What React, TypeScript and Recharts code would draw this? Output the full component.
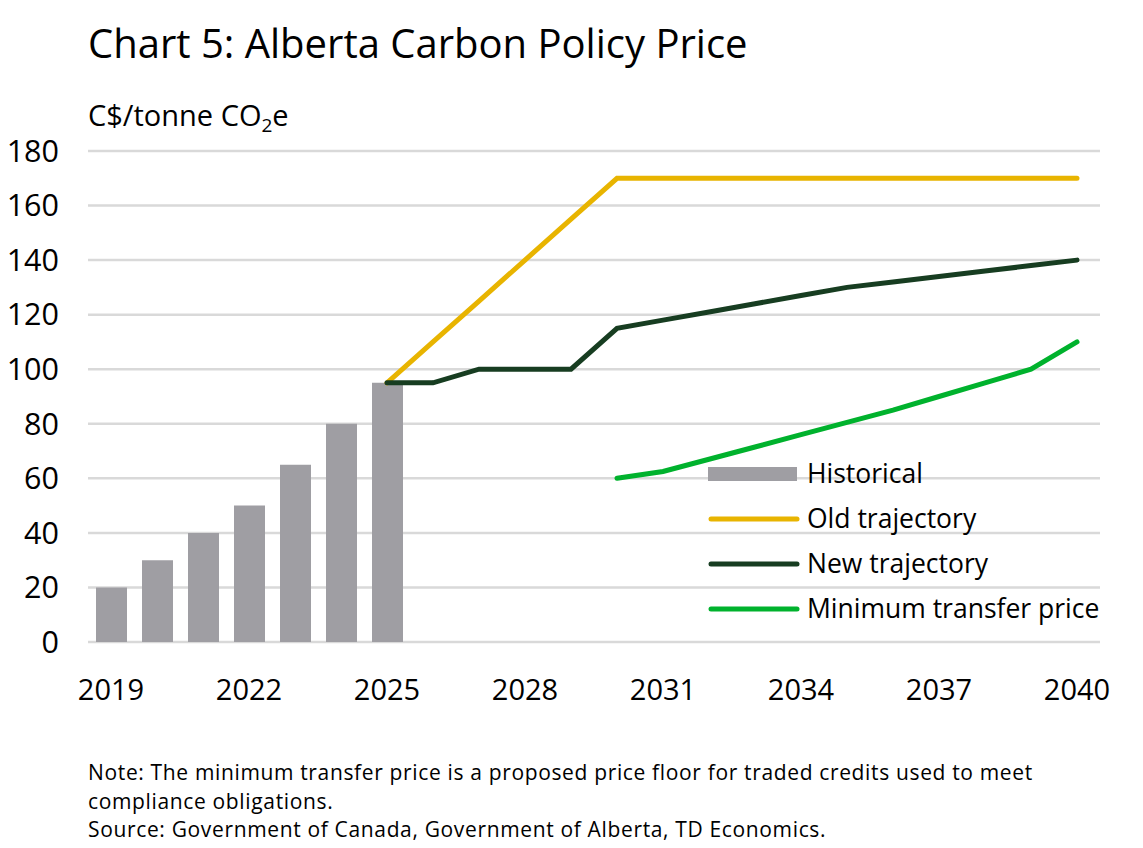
import React from "react";
import {
  ComposedChart,
  Bar,
  Line,
  XAxis,
  YAxis,
  CartesianGrid,
} from "recharts";

// Years on the category axis
const years: number[] = [
  2019, 2020, 2021, 2022, 2023, 2024, 2025, 2026, 2027, 2028, 2029,
  2030, 2031, 2032, 2033, 2034, 2035, 2036, 2037, 2038, 2039, 2040,
];

// C$/tonne CO2e
const historical: (number | null)[] = [
  20, 30, 40, 50, 65, 80, 95, null, null, null, null,
  null, null, null, null, null, null, null, null, null, null, null,
];
const oldTrajectory: (number | null)[] = [
  null, null, null, null, null, null, 95, 110, 125, 140, 155,
  170, 170, 170, 170, 170, 170, 170, 170, 170, 170, 170,
];
const newTrajectory: (number | null)[] = [
  null, null, null, null, null, null, 95, 95, 100, 100, 100,
  115, 118, 121, 124, 127, 130, 132, 134, 136, 138, 140,
];
const minTransferPrice: (number | null)[] = [
  null, null, null, null, null, null, null, null, null, null, null,
  60, 62.5, 67, 71.5, 76, 80.5, 85, 90, 95, 100, 110,
];

const yTicks: number[] = [0, 20, 40, 60, 80, 100, 120, 140, 160, 180];

const seriesNames = {
  historical: "Historical",
  old: "Old trajectory",
  new: "New trajectory",
  min: "Minimum transfer price",
};

const COLORS = {
  historical: "#9f9ea3",
  old: "#e8b400",
  new: "#173d21",
  min: "#00b22d",
  grid: "#d9d9d9",
};

const FONT = "'Open Sans', Roboto, sans-serif";

const data = years.map((year, i) => ({
  year,
  historical: historical[i],
  old: oldTrajectory[i],
  new: newTrajectory[i],
  min: minTransferPrice[i],
}));

const legendItems = [
  { key: "historical", label: seriesNames.historical, kind: "bar", color: COLORS.historical },
  { key: "old", label: seriesNames.old, kind: "line", color: COLORS.old },
  { key: "new", label: seriesNames.new, kind: "line", color: COLORS.new },
  { key: "min", label: seriesNames.min, kind: "line", color: COLORS.min },
];

function LegendBox() {
  return (
    <div style={{ fontFamily: FONT, fontSize: 26.5, color: "#000" }}>
      {legendItems.map((item) => (
        <div
          key={item.key}
          style={{ display: "flex", alignItems: "center", height: 45 }}
        >
          <svg width={99} height={16} style={{ display: "block" }}>
            {item.kind === "bar" ? (
              <rect x={0} y={1} width={89} height={14} fill={item.color} />
            ) : (
              <line
                x1={3}
                y1={8}
                x2={89}
                y2={8}
                stroke={item.color}
                strokeWidth={5}
                strokeLinecap="round"
              />
            )}
          </svg>
          <span style={{ lineHeight: "45px", whiteSpace: "nowrap" }}>{item.label}</span>
        </div>
      ))}
    </div>
  );
}

export default function App() {
  return (
    <div
      style={{
        position: "absolute",
        left: 0,
        top: 0,
        width: 1143,
        height: 848,
        background: "#fff",
        fontFamily: FONT,
        color: "#000",
      }}
    >
      <div
        style={{
          position: "absolute",
          left: 88,
          top: 15,
          fontSize: 40,
          whiteSpace: "nowrap",
        }}
      >
        Chart 5: Alberta Carbon Policy Price
      </div>
      <div
        style={{
          position: "absolute",
          left: 88,
          top: 95,
          fontSize: 29,
          whiteSpace: "nowrap",
        }}
      >
        C$/tonne CO<sub style={{ fontSize: 19, verticalAlign: "-6px" }}>2</sub>e
      </div>

      <div style={{ position: "absolute", left: 0, top: 0 }}>
        <ComposedChart
          width={1143}
          height={720}
          data={data}
          margin={{ top: 151, right: 43, left: 0, bottom: 0 }}
        >
          <CartesianGrid
            vertical={false}
            stroke={COLORS.grid}
            strokeWidth={2.5}
          />
          <XAxis
            dataKey="year"
            height={78}
            interval={2}
            axisLine={false}
            tickLine={false}
            tickMargin={31}
            tick={{ fontSize: 29, fill: "#000", fontFamily: FONT }}
          />
          <YAxis
            width={88}
            domain={[0, 180]}
            ticks={yTicks}
            axisLine={false}
            tickLine={false}
            tickMargin={23}
            tick={{ fontSize: 30.5, fill: "#000", fontFamily: FONT }}
          />
          <Bar
            dataKey="historical"
            name={seriesNames.historical}
            fill={COLORS.historical}
            barSize={31}
            isAnimationActive={false}
          />
          <Line
            dataKey="old"
            name={seriesNames.old}
            stroke={COLORS.old}
            strokeWidth={5}
            dot={false}
            strokeLinecap="round"
            isAnimationActive={false}
          />
          <Line
            dataKey="min"
            name={seriesNames.min}
            stroke={COLORS.min}
            strokeWidth={5}
            dot={false}
            strokeLinecap="round"
            isAnimationActive={false}
          />
          <Line
            dataKey="new"
            name={seriesNames.new}
            stroke={COLORS.new}
            strokeWidth={5}
            dot={false}
            strokeLinecap="round"
            isAnimationActive={false}
          />
        </ComposedChart>
      </div>

      <div style={{ position: "absolute", left: 708, top: 451 }}>
        <LegendBox />
      </div>

      <div
        style={{
          position: "absolute",
          left: 88,
          top: 758,
          width: 1050,
          fontSize: 21,
          letterSpacing: 0.65,
          lineHeight: "28.5px",
          whiteSpace: "nowrap",
        }}
      >
        <div>
          Note: The minimum transfer price is a proposed price floor for traded credits used to meet
        </div>
        <div>compliance obligations.</div>
        <div>Source: Government of Canada, Government of Alberta, TD Economics.</div>
      </div>
    </div>
  );
}
